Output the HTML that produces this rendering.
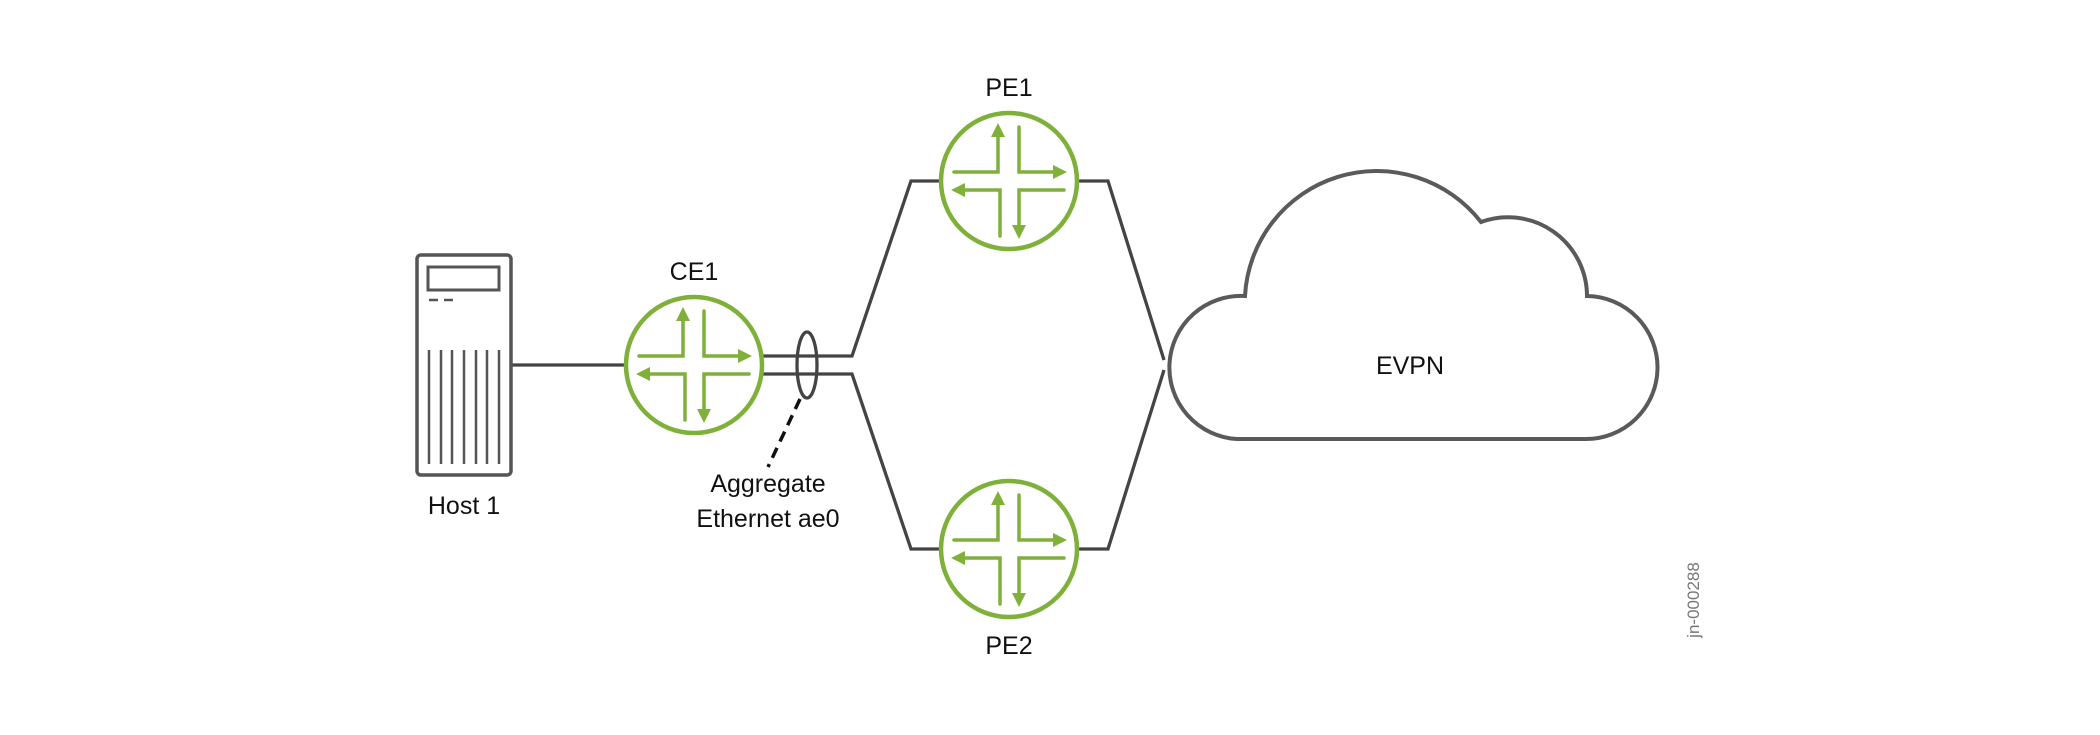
<!DOCTYPE html>
<html><head><meta charset="utf-8"><style>
html,body{margin:0;padding:0;background:#fff;}
svg{display:block;}
text{font-family:"Liberation Sans",sans-serif;fill:#111;}
</style></head><body>
<svg width="2100" height="735" viewBox="0 0 2100 735" xmlns="http://www.w3.org/2000/svg">
<defs>
<g id="r">
  <circle cx="0" cy="0" r="68" fill="#fff" stroke="#7fb03a" stroke-width="4.5"/>
  <g stroke="#7fb03a" stroke-width="3.5" fill="none" stroke-linecap="round" stroke-linejoin="miter">
    <polyline points="-55,-9 -11,-9 -11,-46"/>
    <polyline points="10,-54 10,-9 46,-9"/>
    <polyline points="55,9 10,9 10,46"/>
    <polyline points="-9,55 -9,9 -46,9"/>
  </g>
  <g fill="#7fb03a">
    <polygon points="-11,-58 -18,-44 -4,-44"/>
    <polygon points="58,-9 44,-16 44,-2"/>
    <polygon points="10,58 3,44 17,44"/>
    <polygon points="-58,9 -44,2 -44,16"/>
  </g>
</g>
</defs>
<!-- lines -->
<g stroke="#444" stroke-width="3.3" fill="none">
  <line x1="512" y1="365" x2="626" y2="365"/>
  <polyline points="762,356 852,356 911,181 945,181"/>
  <polyline points="762,374 852,374 911,549 945,549"/>
  <polyline points="1073,181 1108,181 1164,360"/>
  <polyline points="1073,549 1108,549 1164,370"/>
</g>
<!-- host -->
<g stroke="#555" stroke-width="3.5" fill="#fff">
  <rect x="417" y="255" width="94" height="220" rx="4"/>
  <rect x="428" y="267" width="71" height="23" fill="none" stroke-width="3"/>
</g>
<g stroke="#555" stroke-width="2.5">
  <line x1="429" y1="300" x2="438" y2="300"/><line x1="444" y1="300" x2="453" y2="300"/>
  <line x1="429" y1="350" x2="429" y2="464"/><line x1="441" y1="350" x2="441" y2="464"/>
  <line x1="452" y1="350" x2="452" y2="464"/><line x1="464" y1="350" x2="464" y2="464"/>
  <line x1="476" y1="350" x2="476" y2="464"/><line x1="487" y1="350" x2="487" y2="464"/>
  <line x1="499" y1="350" x2="499" y2="464"/>
</g>
<!-- routers -->
<use href="#r" x="694" y="365"/>
<use href="#r" x="1009" y="181"/>
<use href="#r" x="1009" y="549"/>
<!-- ellipse & dashed -->
<ellipse cx="807" cy="365" rx="10" ry="33" fill="none" stroke="#444" stroke-width="3.3"/>
<line x1="800" y1="399" x2="768" y2="467" stroke="#111" stroke-width="3.5" stroke-dasharray="11,7"/>
<!-- cloud -->
<path d="M1245,296 A132,132 0 0 1 1481,222 A79,79 0 0 1 1587,296 A71.5,71.5 0 0 1 1585,439 L1237,439 A71.5,71.5 0 0 1 1245,296 Z" fill="#fff" stroke="#5a5a5a" stroke-width="4"/>
<!-- labels -->
<g font-size="25" text-anchor="middle">
  <text x="694" y="280">CE1</text>
  <text x="1009" y="96">PE1</text>
  <text x="1009" y="654">PE2</text>
  <text x="464" y="514">Host 1</text>
  <text x="768" y="492">Aggregate</text>
  <text x="768" y="527">Ethernet ae0</text>
  <text x="1410" y="374">EVPN</text>
</g>
<text x="0" y="0" font-size="17" text-anchor="middle" fill="#777" style="fill:#777" transform="translate(1699,600) rotate(-90)">jn-000288</text>
</svg>
</body></html>
